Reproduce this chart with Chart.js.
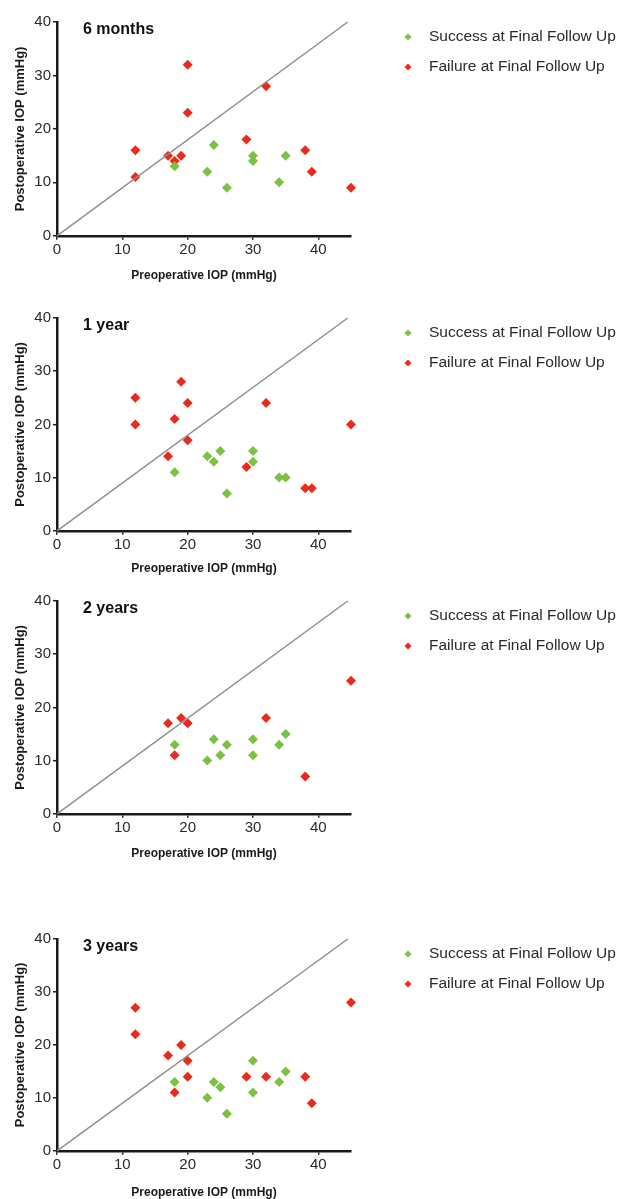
<!DOCTYPE html>
<html>
<head>
<meta charset="utf-8">
<script src="https://cdn.jsdelivr.net/npm/chart.js@4.4.1/dist/chart.umd.min.js"></script>
<style>
  html, body { margin: 0; padding: 0; background: #fff; overflow: hidden; }
  #wrap { position: relative; width: 621px; height: 1199px; }
  canvas { position: absolute; left: 0; }
</style>
</head>
<body>
<div id="wrap"></div>
<script>
// --- data (preoperative IOP, postoperative IOP) ---
const panelTitles = ['6 months', '1 year', '2 years', '3 years'];
const legendLabels = ['Success at Final Follow Up', 'Failure at Final Follow Up'];
const xTickValues = [0, 10, 20, 30, 40];
const yTickValues = [0, 10, 20, 30, 40];
const refLine = [[0, 0], [44.5, 40]];

const success6m = [[18,13],[23,12],[24,17],[26,9],[30,15],[30,14],[34,10],[35,15]];
const failure6m = [[12,16],[12,11],[17,15],[18,14],[19,15],[20,32],[20,23],[29,18],[32,28],[38,16],[39,12],[45,9]];

const success1y = [[18,11],[23,14],[24,13],[25,15],[26,7],[30,15],[30,13],[34,10],[35,10]];
const failure1y = [[12,25],[12,20],[17,14],[18,21],[19,28],[20,24],[20,17],[29,12],[32,24],[38,8],[39,8],[45,20]];

const success2y = [[18,13],[23,10],[24,14],[25,11],[26,13],[30,14],[30,11],[34,13],[35,15]];
const failure2y = [[17,17],[18,11],[19,18],[20,17],[32,18],[38,7],[45,25]];

const success3y = [[18,13],[23,10],[24,13],[25,12],[26,7],[30,17],[30,11],[34,13],[35,15]];
const failure3y = [[12,27],[12,22],[17,18],[18,11],[19,20],[20,17],[20,14],[29,14],[32,14],[38,14],[39,9],[45,28]];

const successSets = [success6m, success1y, success2y, success3y];
const failureSets = [failure6m, failure1y, failure2y, failure3y];

// --- layout (page px): plot top, plot bottom, x title centre ---
const panelBoxes = [
  { top: 22,  bottom: 235,  xTitle: 275 },
  { top: 318, bottom: 530,  xTitle: 568 },
  { top: 601, bottom: 813,  xTitle: 853 },
  { top: 939, bottom: 1150, xTitle: 1192 }
];
const PLOT_LEFT = 57, PLOT_RIGHT = 351, PAGE_W = 621;
const GREEN = '#7cc242', RED = '#ec2a1c', INK = '#2a2a2a';
const FONT = "'Liberation Sans', Arial, Helvetica, sans-serif";

const toXY = arr => arr.map(p => ({ x: p[0], y: p[1] }));

// panel title + legend drawn on the canvas
const panelDecor = {
  id: 'panelDecor',
  afterDraw(chart, args, opts) {
    const ctx = chart.ctx, area = chart.chartArea;
    ctx.save();
    ctx.fillStyle = '#111';
    ctx.font = 'bold 16px ' + FONT;
    ctx.textBaseline = 'middle';
    ctx.textAlign = 'left';
    ctx.fillText(opts.title, 83, area.top + 8);

    const sets = chart.data.datasets.filter(d => d.label);
    sets.forEach((ds, i) => {
      const y = area.top + 15 + i * 30;
      ctx.fillStyle = ds.backgroundColor;
      ctx.beginPath();
      ctx.moveTo(408, y - 3.5);
      ctx.lineTo(411.5, y);
      ctx.lineTo(408, y + 3.5);
      ctx.lineTo(404.5, y);
      ctx.closePath();
      ctx.fill();
      ctx.fillStyle = INK;
      ctx.font = '15.5px ' + FONT;
      ctx.fillText(ds.label, 429, y);
    });
    ctx.restore();
  }
};

const wrap = document.getElementById('wrap');

panelBoxes.forEach((box, i) => {
  const canvasTop = box.top - 22;
  const xAxisH = box.xTitle + 11.2 - box.bottom;
  const height = Math.ceil(box.bottom - canvasTop + xAxisH);

  const canvas = document.createElement('canvas');
  canvas.style.top = canvasTop + 'px';
  canvas.style.width = PAGE_W + 'px';
  canvas.style.height = height + 'px';
  canvas.width = PAGE_W;
  canvas.height = height;
  wrap.appendChild(canvas);

  // GraphPad-style dotted axis lines with outward tick marks
  const axisBorder = { display: true, color: '#1a1a1a', width: 2.5, dash: [1, 1] };
  const axisGrid = { display: true, drawOnChartArea: false, drawTicks: true, tickLength: 4, color: '#222', lineWidth: 1.5 };
  const tickFont = { family: FONT, size: 15 };

  new Chart(canvas, {
    type: 'scatter',
    data: {
      datasets: [
        {
          type: 'line',
          label: '',
          data: toXY(refLine),
          borderColor: '#8f8f8f',
          borderWidth: 1.5,
          pointRadius: 0,
          clip: false
        },
        {
          label: legendLabels[0],
          data: toXY(successSets[i]),
          backgroundColor: GREEN,
          borderColor: GREEN,
          borderWidth: 0,
          pointStyle: 'rectRot',
          pointRadius: 5,
          clip: false
        },
        {
          label: legendLabels[1],
          data: toXY(failureSets[i]),
          backgroundColor: RED,
          borderColor: RED,
          borderWidth: 0,
          pointStyle: 'rectRot',
          pointRadius: 5,
          clip: false
        }
      ]
    },
    options: {
      responsive: false,
      animation: false,
      layout: { padding: { left: 0, top: 22, right: PAGE_W - PLOT_RIGHT, bottom: 0 } },
      scales: {
        x: {
          type: 'linear',
          min: 0,
          max: 45,
          border: axisBorder,
          grid: axisGrid,
          afterBuildTicks: s => { s.ticks = xTickValues.map(v => ({ value: v })); },
          afterFit: s => { s.height = xAxisH; },
          ticks: { font: tickFont, color: '#2a2a2a', padding: 1 },
          title: {
            display: true,
            text: 'Preoperative IOP (mmHg)',
            color: '#1a1a1a',
            font: { family: FONT, size: 12, weight: 'bold' },
            padding: { top: 4, bottom: 4 }
          }
        },
        y: {
          type: 'linear',
          min: 0,
          max: 40,
          border: axisBorder,
          grid: axisGrid,
          afterBuildTicks: s => { s.ticks = yTickValues.map(v => ({ value: v })); },
          afterFit: s => { s.width = PLOT_LEFT; },
          ticks: { font: tickFont, color: '#2a2a2a', padding: 2 },
          title: {
            display: true,
            text: 'Postoperative IOP (mmHg)',
            color: '#1a1a1a',
            font: { family: FONT, size: 13, weight: 'bold' },
            padding: { top: 13, bottom: 2 }
          }
        }
      },
      plugins: {
        legend: { display: false },
        tooltip: { enabled: false },
        panelDecor: { title: panelTitles[i] }
      }
    },
    plugins: [panelDecor]
  });
});
</script>
</body>
</html>
